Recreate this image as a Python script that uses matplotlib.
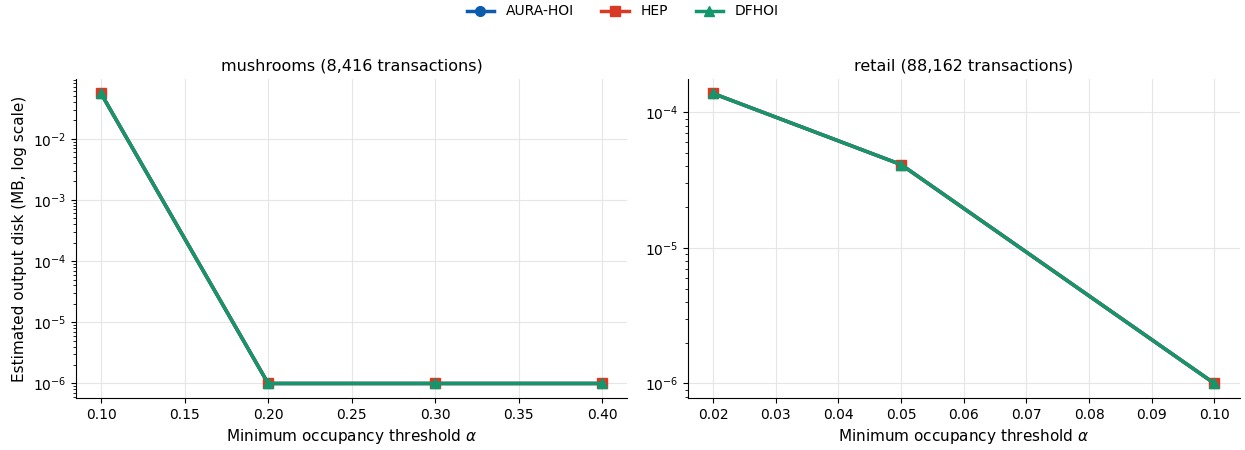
import matplotlib
matplotlib.use("Agg")
import matplotlib.pyplot as plt
import numpy as np

methods = ["AURA-HOI", "HEP", "DFHOI"]
colors = ["#0b5cad", "#d93a26", "#14966c"]
markers = ["o", "s", "^"]

mush_alpha = [0.10, 0.20, 0.30, 0.40]
mush_vals = {
    "AURA-HOI": [5.5e-2, 1e-6, 1e-6, 1e-6],
    "HEP": [5.5e-2, 1e-6, 1e-6, 1e-6],
    "DFHOI": [5.5e-2, 1e-6, 1e-6, 1e-6],
}
retail_alpha = [0.02, 0.05, 0.10]
retail_vals = {
    "AURA-HOI": [1.38e-4, 4.12e-5, 1e-6],
    "HEP": [1.38e-4, 4.12e-5, 1e-6],
    "DFHOI": [1.38e-4, 4.12e-5, 1e-6],
}

fig = plt.figure(figsize=(12.45, 4.5), dpi=100)
ax1 = fig.add_axes([0.061, 0.1156, 0.443, 0.709])
ax2 = fig.add_axes([0.5526, 0.1156, 0.443, 0.709])

for ax, xs, vals, title in [
    (ax1, mush_alpha, mush_vals, "mushrooms (8,416 transactions)"),
    (ax2, retail_alpha, retail_vals, "retail (88,162 transactions)"),
]:
    for m, c, mk in zip(methods, colors, markers):
        ax.plot(xs, vals[m], color=c, marker=mk, lw=2.5, ms=7, label=m)
    ax.set_yscale("log")
    ax.set_title(title, fontsize=11.5)
    ax.set_xlabel(r"Minimum occupancy threshold $\alpha$", fontsize=11)
    ax.grid(True, color="#e6e6e6", lw=0.8)
    ax.set_axisbelow(True)
    ax.spines["top"].set_visible(False)
    ax.spines["right"].set_visible(False)
    ax.tick_params(labelsize=10)

ax1.set_xticks(np.arange(0.10, 0.401, 0.05))
ax1.set_xticklabels([f"{v:.2f}" for v in np.arange(0.10, 0.401, 0.05)])
ax2.set_xticks(np.arange(0.02, 0.1001, 0.01))
ax2.set_xticklabels([f"{v:.2f}" for v in np.arange(0.02, 0.1001, 0.01)])
ax1.set_ylabel("Estimated output disk (MB, log scale)", fontsize=11)

handles, labels = ax1.get_legend_handles_labels()
fig.legend(handles, labels, loc="upper center", ncol=3, frameon=False,
           bbox_to_anchor=(0.5, 1.018), fontsize=10, columnspacing=2.0)

fig.savefig("out.png", dpi=100)
